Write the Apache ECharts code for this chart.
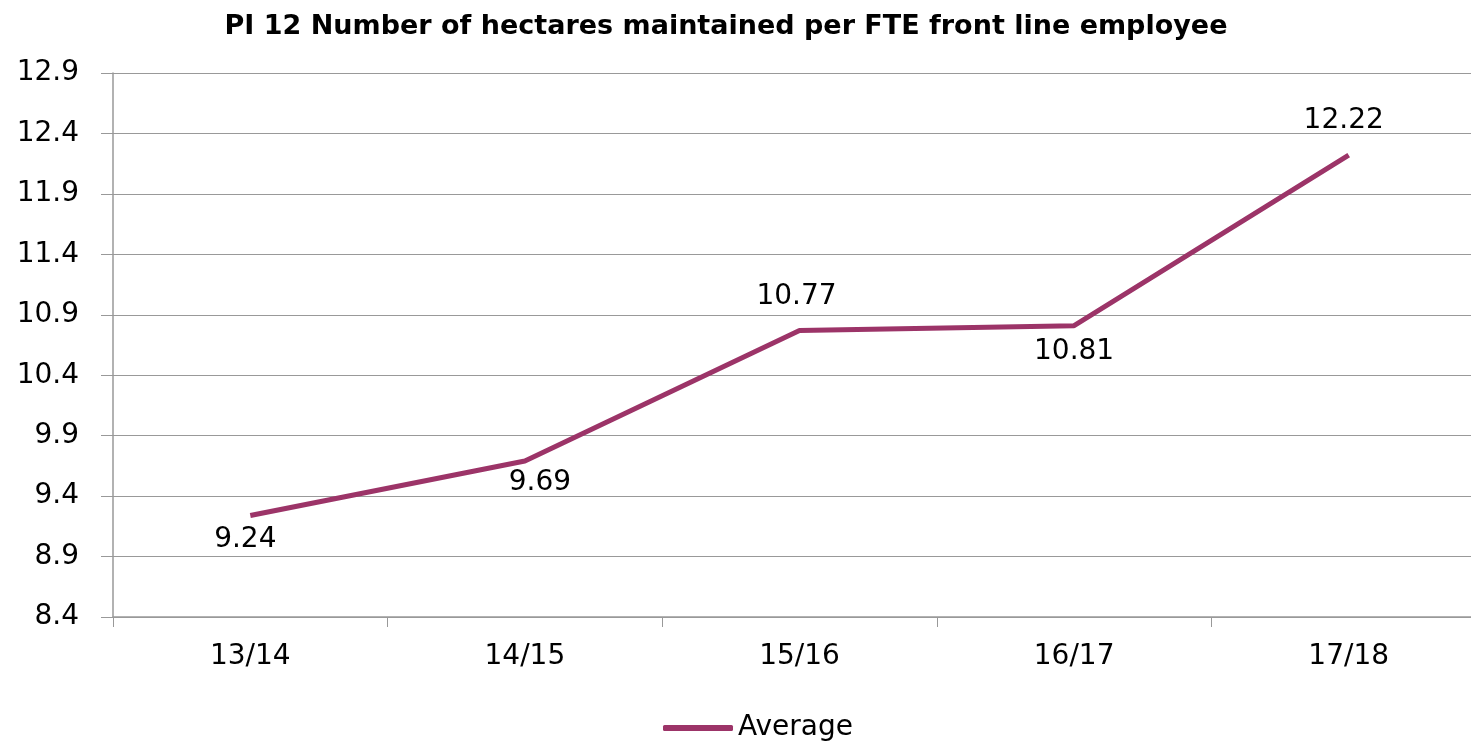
<!DOCTYPE html>
<html>
<head>
<meta charset="utf-8">
<script src="https://cdn.jsdelivr.net/npm/echarts@6/dist/echarts.min.js"></script>
<style>
  html, body { margin: 0; padding: 0; background: #fff; }
  #chart { width: 1471px; height: 744px; }
</style>
</head>
<body>
<div id="chart"></div>
<script>
// data
const categories = ['13/14', '14/15', '15/16', '16/17', '17/18']
const averageValues = [9.24, 9.69, 10.77, 10.81, 12.22]
const labelSide = ['bottom', 'bottom', 'top', 'bottom', 'top']
const labelShift = [[-5, 2], [15, 0], [-3, 0], [0, 4], [-5, 0]]

const chart = echarts.init(document.getElementById('chart'))
const font = '"DejaVu Sans", sans-serif'
const lineColor = '#9c3468'

chart.setOption({
  animation: false,
  title: {
    text: 'PI 12 Number of hectares maintained per FTE front line employee',
    left: 721,
    textAlign: 'center',
    top: 8,
    textStyle: {
      fontFamily: font,
      fontWeight: 'bold',
      fontSize: 27,
      color: '#000'
    }
  },
  legend: {
    bottom: -3,
    left: 658,
    itemWidth: 70,
    itemHeight: 6,
    itemGap: 6,
    icon: 'roundRect',
    textStyle: { fontFamily: font, fontSize: 28, color: '#000' },
    data: ['Average']
  },
  grid: {
    left: 113,
    top: 73,
    width: 1373,
    height: 544,
    outerBoundsMode: 'none'
  },
  xAxis: {
    type: 'category',
    data: categories,
    boundaryGap: true,
    axisLine: { lineStyle: { color: '#999', width: 1.5 } },
    axisTick: { show: true, length: 10, lineStyle: { color: '#999' } },
    axisLabel: { margin: 26, fontFamily: font, fontSize: 28, color: '#000' }
  },
  yAxis: {
    type: 'value',
    min: 8.4,
    max: 12.9,
    interval: 0.5,
    axisLine: { show: true, lineStyle: { color: '#999', width: 1.5 } },
    axisTick: { show: true, length: 12, lineStyle: { color: '#999' } },
    splitLine: { lineStyle: { color: '#999', width: 1.2 } },
    axisLabel: {
      margin: 34,
      fontFamily: font,
      fontSize: 28,
      color: '#000',
      formatter: v => v.toFixed(1)
    }
  },
  series: [
    {
      name: 'Average',
      type: 'line',
      data: averageValues.map((v, i) => ({
        value: v,
        label: {
          position: labelSide[i],
          distance: labelSide[i] === 'top' ? 20 : 8,
          offset: labelShift[i]
        }
      })),
      symbol: 'circle',
      symbolSize: 0.1,
      showSymbol: true,
      color: lineColor,
      itemStyle: { color: lineColor },
      lineStyle: { color: lineColor, width: 5 },
      label: {
        show: true,
        fontFamily: font,
        fontSize: 28,
        color: '#000',
        formatter: p => p.value.toFixed(2)
      }
    }
  ]
})
</script>
</body>
</html>
